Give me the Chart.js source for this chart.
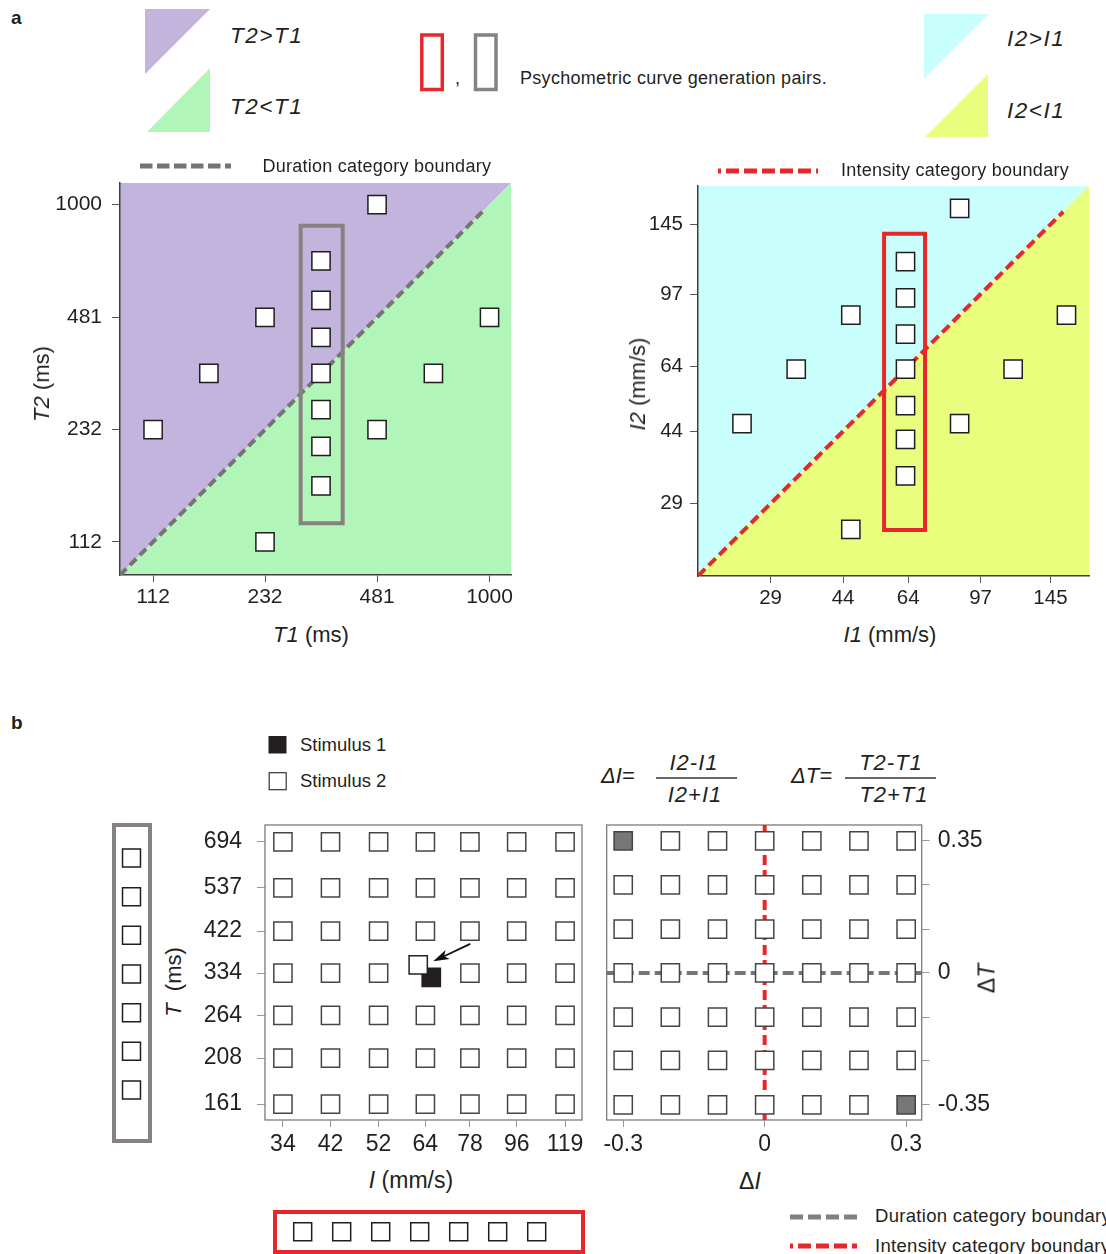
<!DOCTYPE html>
<html>
<head>
<meta charset="utf-8">
<script src="https://cdn.jsdelivr.net/npm/chart.js@4.4.1/dist/chart.umd.min.js"></script>
<style>
  html, body { margin: 0; padding: 0; background: #fff; }
  #page { position: relative; width: 1106px; height: 1254px; overflow: hidden;
          font-family: "Liberation Sans", Arial, sans-serif; color: #231f20; }
  .t { position: absolute; white-space: pre; }
  canvas { position: absolute; }
</style>
</head>
<body>
<div id="page"></div>
<script>
// ---------- Panel a: duration space (ms) ----------
const DURATION_TICKS = [112, 232, 481, 1000];
const DURATION_PAIR_T1 = [112, 161, 232, 232, 481, 481, 694, 1000];
const DURATION_PAIR_T2 = [232, 334, 481, 112, 1000, 232, 334, 481];
const DURATION_COLUMN_T1 = 334;
const DURATION_COLUMN_T2 = [161, 208, 264, 334, 422, 537, 694];
const DURATION_BOUNDARY = [90.3, 970];
const DURATION_BOX_T1 = [292.6, 384.6];
const DURATION_BOX_T2 = [126.4, 871];

// ---------- Panel a: intensity space (mm/s) ----------
const INTENSITY_TICKS = [29, 44, 64, 97, 145];
const INTENSITY_PAIR_I1 = [24.6, 33.6, 46, 46, 86, 86, 117, 159];
const INTENSITY_PAIR_I2 = [46, 63, 86, 25, 159, 46, 63, 86];
const INTENSITY_COLUMN_I1 = 63;
const INTENSITY_COLUMN_I2 = [34, 42, 51, 63, 77, 95, 117];
const INTENSITY_BOUNDARY = [19.1, 156];
const INTENSITY_BOX_I1 = [55.7, 70.5];
const INTENSITY_BOX_I2 = [24.9, 137.5];

// ---------- Panel b: stimulus grid ----------
const GRID_I = [34, 42, 52, 64, 78, 96, 119];
const GRID_T = [694, 537, 422, 334, 264, 208, 161];
const STIMULUS_1 = [65.7, 326];   // [I, T]
const STIMULUS_2 = [62, 349.6];   // [I, T]
const DELTA_I = [-0.3, -0.2, -0.1, 0, 0.1, 0.2, 0.3];
const DELTA_T = [0.35, 0.233, 0.116, 0, -0.117, -0.232, -0.35];
const DELTA_I_TICKS = [-0.3, 0, 0.3];
const DELTA_T_LABELLED = [0.35, 0, -0.35];
const DELTA_EXTREMES = [[-0.3, 0.35], [0.3, -0.35]];

// ---------- colours ----------
const PURPLE = '#c3b4de', GREEN = '#b2f5b8', CYAN = '#c8fffc', YELLOW = '#eafe7d';
const DUR_GREY = '#747474', INT_RED = '#e6272b', BOX_GREY = '#878181';

const page = document.getElementById('page');
Chart.defaults.font.family = "'Liberation Sans', Arial, sans-serif";
Chart.defaults.color = '#231f20';

function mount(l, t, w, h) {
  const c = document.createElement('canvas');
  c.width = w; c.height = h;
  c.style.left = l + 'px'; c.style.top = t + 'px';
  c.style.width = w + 'px'; c.style.height = h + 'px';
  page.appendChild(c);
  return c;
}

function makeChart(canvas, datasets, scales, padding, plugins) {
  return new Chart(canvas, {
    type: 'scatter',
    data: { datasets },
    options: {
      responsive: false, devicePixelRatio: 1, animation: false, events: [],
      layout: { padding, autoPadding: false },
      scales,
      plugins: { legend: { display: false }, tooltip: { enabled: false } }
    },
    plugins: plugins || []
  });
}

function axis(type, o) {
  const a = {
    type, position: o.pos, min: o.min, max: o.max, bounds: 'data', display: o.display !== false,
    afterFit: s => {
      if (o.w != null) s.width = o.w;
      if (o.h != null) s.height = o.h;
      s.paddingTop = 0; s.paddingBottom = 0; s.paddingLeft = 0; s.paddingRight = 0;
    },
    grid: { display: true, drawOnChartArea: false, drawTicks: true, tickLength: o.tl || 8,
            tickColor: o.tc || '#555', color: o.tc || '#555', tickWidth: 1 },
    border: { display: !!o.border, color: '#3d3d3d', width: 1.5 },
    ticks: { autoSkip: false, maxRotation: 0, minRotation: 0, padding: o.pad || 4,
             font: { size: o.fs || 21 }, color: '#231f20',
             callback: o.cb || (v => String(v)) }
  };
  if (o.ticks) a.afterBuildTicks = s => { s.ticks = o.ticks.map(v => ({ value: v })); };
  return a;
}

function squares(points, opts = {}) {
  return Object.assign({
    type: 'scatter', data: points, pointStyle: 'rect', pointRadius: 12.9, pointHoverRadius: 12.9,
    backgroundColor: '#ffffff', borderColor: '#1e1e1e', borderWidth: 1.5, clip: false, order: 0
  }, opts);
}

function path(points, color, width, dash, order) {
  return {
    type: 'scatter', data: points, showLine: true, pointRadius: 0, borderColor: color,
    borderWidth: width, borderDash: dash || [], fill: false, tension: 0,
    borderCapStyle: dash ? 'butt' : 'square', borderJoinStyle: 'miter', order
  };
}

function boxPath(xs, ys) {
  return [{ x: xs[0], y: ys[1] }, { x: xs[1], y: ys[1] }, { x: xs[1], y: ys[0] },
          { x: xs[0], y: ys[0] }, { x: xs[0], y: ys[1] }];
}

// category regions above / below the identity line
function regionPlugin(upper, lower) {
  return {
    id: 'regions',
    beforeDraw(chart) {
      const { ctx, scales: { x, y } } = chart;
      const x0 = x.getPixelForValue(x.min), x1 = x.getPixelForValue(x.max);
      const y0 = y.getPixelForValue(y.min), y1 = y.getPixelForValue(y.max);
      ctx.save();
      ctx.fillStyle = upper;
      ctx.beginPath(); ctx.moveTo(x0, y0); ctx.lineTo(x0, y1); ctx.lineTo(x1, y1); ctx.closePath(); ctx.fill();
      ctx.fillStyle = lower;
      ctx.beginPath(); ctx.moveTo(x0, y0); ctx.lineTo(x1, y1); ctx.lineTo(x1, y0); ctx.closePath(); ctx.fill();
      ctx.restore();
    }
  };
}

const framePlugin = {
  id: 'frame',
  beforeDatasetsDraw(chart) {
    const { ctx, chartArea: a } = chart;
    ctx.save();
    ctx.strokeStyle = '#7b7b7b'; ctx.lineWidth = 1.3;
    ctx.strokeRect(a.left, a.top, a.right - a.left, a.bottom - a.top);
    ctx.restore();
  }
};

function outlinePlugin(color, dl, dt, dr, db) {
  return {
    id: 'outline',
    afterDatasetsDraw(chart) {
      const { ctx, chartArea: a } = chart;
      ctx.save();
      ctx.strokeStyle = color; ctx.lineWidth = 4;
      ctx.strokeRect(a.left - dl, a.top - dt, (a.right + dr) - (a.left - dl), (a.bottom + db) - (a.top - dt));
      ctx.restore();
    }
  };
}

// ================= Panel a, left: T1 vs T2 =================
makeChart(mount(40, 175, 480, 445), [
  squares(DURATION_PAIR_T1.map((t1, i) => ({ x: t1, y: DURATION_PAIR_T2[i] }))),
  squares(DURATION_COLUMN_T2.map(t2 => ({ x: DURATION_COLUMN_T1, y: t2 }))),
  path(boxPath(DURATION_BOX_T1, DURATION_BOX_T2), BOX_GREY, 4, null, 1),
  path(DURATION_BOUNDARY.map(v => ({ x: v, y: v })), DUR_GREY, 4, [9, 5], 2)
], {
  x: axis('logarithmic', { pos: 'bottom', min: 90.3, max: 1150, ticks: DURATION_TICKS, h: 45, tl: 7, pad: 3, fs: 21, border: true }),
  y: axis('logarithmic', { pos: 'left', min: 90.3, max: 1150, ticks: DURATION_TICKS, w: 80, tl: 8, pad: 10, fs: 21, border: true })
}, { top: 8, right: 9, left: 0, bottom: 0 }, [regionPlugin(PURPLE, GREEN)]);

// ================= Panel a, right: I1 vs I2 =================
makeChart(mount(610, 175, 490, 446), [
  squares(INTENSITY_PAIR_I1.map((i1, i) => ({ x: i1, y: INTENSITY_PAIR_I2[i] }))),
  squares(INTENSITY_COLUMN_I2.map(i2 => ({ x: INTENSITY_COLUMN_I1, y: i2 }))),
  path(boxPath(INTENSITY_BOX_I1, INTENSITY_BOX_I2), INT_RED, 4, null, 1),
  path(INTENSITY_BOUNDARY.map(v => ({ x: v, y: v })), INT_RED, 4, [10, 5], 2)
], {
  x: axis('logarithmic', { pos: 'bottom', min: 19.1, max: 181, ticks: INTENSITY_TICKS, h: 45, tl: 7, pad: 3, fs: 20.5, border: true }),
  y: axis('logarithmic', { pos: 'left', min: 19.1, max: 181, ticks: INTENSITY_TICKS, w: 88, tl: 8, pad: 7, fs: 20.5, border: true })
}, { top: 11, right: 11, left: 0, bottom: 0 }, [regionPlugin(CYAN, YELLOW)]);

// ================= Panel b, left: I x T grid =================
const gridPoints = [];
GRID_T.forEach(t => GRID_I.forEach(i => {
  if (!(i === 64 && t === 334)) gridPoints.push({ x: i, y: t });
}));

const arrowPlugin = {
  id: 'arrow',
  afterDatasetsDraw(chart) {
    const { ctx, scales: { x, y } } = chart;
    const sx = x.getPixelForValue(STIMULUS_2[0]), sy = y.getPixelForValue(STIMULUS_2[1]);
    const tip = [sx + 15, sy - 3.5], tail = [sx + 52, sy - 21];
    const dx = tip[0] - tail[0], dy = tip[1] - tail[1], L = Math.hypot(dx, dy);
    const ux = dx / L, uy = dy / L, px = -uy, py = ux;
    const hl = 16, hw = 5;
    ctx.save();
    ctx.strokeStyle = '#111'; ctx.fillStyle = '#111'; ctx.lineWidth = 1.8;
    ctx.beginPath(); ctx.moveTo(tail[0], tail[1]);
    ctx.lineTo(tip[0] - ux * (hl - 4), tip[1] - uy * (hl - 4)); ctx.stroke();
    ctx.beginPath();
    ctx.moveTo(tip[0], tip[1]);
    ctx.lineTo(tip[0] - ux * hl + px * hw, tip[1] - uy * hl + py * hw);
    ctx.lineTo(tip[0] - ux * (hl - 4), tip[1] - uy * (hl - 4));
    ctx.lineTo(tip[0] - ux * hl - px * hw, tip[1] - uy * hl - py * hw);
    ctx.closePath(); ctx.fill();
    ctx.restore();
  }
};

makeChart(mount(190, 815, 400, 345), [
  squares([{ x: STIMULUS_2[0], y: STIMULUS_2[1] }], { borderColor: '#222', order: 0 }),
  squares([{ x: STIMULUS_1[0], y: STIMULUS_1[1] }], { backgroundColor: '#231f20', borderColor: '#231f20', order: 1 }),
  squares(gridPoints, { borderColor: '#454545', order: 2 })
], {
  x: axis('logarithmic', { pos: 'bottom', min: 31.4, max: 128.3, ticks: GRID_I, h: 40, tl: 7, pad: 4, fs: 23, tc: '#9a9a9a' }),
  y: axis('logarithmic', { pos: 'left', min: 147.3, max: 762, ticks: GRID_T, w: 75, tl: 8, pad: 15, fs: 23, tc: '#9a9a9a' })
}, { top: 10, right: 8, left: 0, bottom: 0 }, [framePlugin, arrowPlugin]);

// ================= Panel b, right: ΔI x ΔT grid =================
const deltaPoints = [], deltaFill = [];
DELTA_T.forEach(dt => DELTA_I.forEach(di => {
  deltaPoints.push({ x: di, y: dt });
  const extreme = DELTA_EXTREMES.some(p => p[0] === di && p[1] === dt);
  deltaFill.push(extreme ? '#777777' : '#ffffff');
}));

makeChart(mount(600, 815, 400, 345), [
  squares(deltaPoints, { backgroundColor: deltaFill, borderColor: '#454545', order: 0 }),
  path([{ x: 0, y: -0.39 }, { x: 0, y: 0.392 }], INT_RED, 4, [10, 5], 1),
  path([{ x: -0.335, y: 0 }, { x: 0.333, y: 0 }], DUR_GREY, 4, [11, 5], 2)
], {
  x: axis('linear', { pos: 'bottom', min: -0.335, max: 0.333, ticks: DELTA_I_TICKS, h: 40, tl: 7, pad: 4, fs: 23, tc: '#9a9a9a' }),
  y: axis('linear', { pos: 'right', min: -0.39, max: 0.392, ticks: DELTA_T, w: 78.3, tl: 8, pad: 8, fs: 23, tc: '#9a9a9a',
                      cb: v => DELTA_T_LABELLED.includes(v) ? String(v) : '' })
}, { top: 10, right: 0, left: 6.7, bottom: 0 }, [framePlugin]);

// ================= Panel b: duration column (grey) =================
makeChart(mount(105, 815, 55, 335), [
  squares(GRID_T.map(t => ({ x: 0, y: String(t) })), { pointRadius: 12.7 })
], {
  x: { type: 'linear', min: -1, max: 1, display: false },
  y: { type: 'category', labels: GRID_T.map(String), offset: true, display: false }
}, { top: 23.7, bottom: 40.7, left: 8, right: 10 }, [outlinePlugin(BOX_GREY, -1, 13.7, 0, 31.7)]);

// ================= Panel b: intensity row (red) =================
makeChart(mount(265, 1195, 330, 59), [
  squares(GRID_I.map(i => ({ x: String(i), y: 0 })), { pointRadius: 12.7 })
], {
  x: { type: 'category', labels: GRID_I.map(String), offset: true, display: false },
  y: { type: 'linear', min: -1, max: 1, display: false }
}, { top: 25, bottom: 10.6, left: 18.2, right: 38.8 }, [outlinePlugin(INT_RED, 8.2, 8, 26.8, 8.6)]);

// ================= legend shapes =================
page.insertAdjacentHTML('afterbegin', `
<svg width="1106" height="1254" style="position:absolute;left:0;top:0" xmlns="http://www.w3.org/2000/svg">
  <polygon points="145,9 210,9 145,74" fill="${PURPLE}"/>
  <polygon points="210,68 210,132 147,132" fill="${GREEN}"/>
  <polygon points="924,14 989,14 924,79" fill="${CYAN}"/>
  <polygon points="988,74 988,137 925,137" fill="${YELLOW}"/>
  <rect x="421.8" y="35" width="20.5" height="54.5" fill="none" stroke="${INT_RED}" stroke-width="3.5"/>
  <rect x="475.5" y="35" width="20.5" height="54.5" fill="none" stroke="${BOX_GREY}" stroke-width="3.5"/>
  <line x1="140" y1="166" x2="231" y2="166" stroke="${DUR_GREY}" stroke-width="5" stroke-dasharray="12.5 4.5"/>
  <line x1="718" y1="171" x2="818" y2="171" stroke="${INT_RED}" stroke-width="5" stroke-dasharray="13 5" stroke-dashoffset="10"/>
  <rect x="268.5" y="736" width="18" height="17.5" fill="#231f20"/>
  <rect x="269.2" y="772.7" width="17" height="17" fill="#fff" stroke="#333" stroke-width="1.2"/>
  <line x1="656" y1="778" x2="737" y2="778" stroke="#333" stroke-width="1.3"/>
  <line x1="845" y1="778" x2="936" y2="778" stroke="#333" stroke-width="1.3"/>
  <line x1="790" y1="1217" x2="857" y2="1217" stroke="#808080" stroke-width="5" stroke-dasharray="13 5"/>
  <line x1="790" y1="1246" x2="857" y2="1246" stroke="${INT_RED}" stroke-width="5" stroke-dasharray="13 5" stroke-dashoffset="10"/>
</svg>`);

// ================= text =================
function label(html, x, y, o = {}) {
  const s = document.createElement('div');
  const fs = o.fs || 18;
  s.className = 't';
  s.innerHTML = html;
  s.style.fontSize = fs + 'px';
  s.style.lineHeight = fs + 'px';
  if (o.bold) s.style.fontWeight = 'bold';
  if (o.italic) s.style.fontStyle = 'italic';
  if (o.ls) s.style.letterSpacing = o.ls + 'px';
  s.style.left = x + 'px';
  s.style.top = (y - fs / 2) + 'px';
  if (o.rot) s.style.transform = 'translateX(-50%) rotate(-90deg)';
  else if (o.align === 'c') s.style.transform = 'translateX(-50%)';
  page.appendChild(s);
}

label('a', 11, 17, { fs: 19, bold: true });
label('b', 11, 722, { fs: 19, bold: true });

label('T2&gt;T1', 230, 36, { fs: 22.5, italic: true, ls: 1.5 });
label('T2&lt;T1', 230, 107, { fs: 22.5, italic: true, ls: 1.5 });
label(',', 455, 78, { fs: 18 });
label('Psychometric curve generation pairs.', 520, 77.5, { fs: 18, ls: 0.3 });
label('I2&gt;I1', 1007, 39, { fs: 22.5, italic: true, ls: 1.5 });
label('I2&lt;I1', 1007, 111, { fs: 22.5, italic: true, ls: 1.5 });
label('Duration category boundary', 262.5, 165.5, { fs: 18, ls: 0.25 });
label('Intensity category boundary', 841, 169.5, { fs: 18, ls: 0.25 });

label('<i>T2</i> (ms)', 42, 384, { fs: 22, rot: true });
label('<i>T1</i> (ms)', 311, 635, { fs: 22, align: 'c' });
label('<i>I2</i> (mm/s)', 638, 384, { fs: 22, rot: true });
label('<i>I1</i> (mm/s)', 890, 635, { fs: 22, align: 'c' });

label('Stimulus 1', 300, 745, { fs: 18.5 });
label('Stimulus 2', 300, 781, { fs: 18.5 });

label('ΔI=', 601, 776, { fs: 22, italic: true });
label('I2-I1', 694, 763, { fs: 22, italic: true, align: 'c', ls: 1 });
label('I2+I1', 695, 795, { fs: 22, italic: true, align: 'c', ls: 1 });
label('ΔT=', 791, 776, { fs: 22, italic: true });
label('T2-T1', 891, 763, { fs: 22, italic: true, align: 'c', ls: 1 });
label('T2+T1', 894, 795, { fs: 22, italic: true, align: 'c', ls: 1 });

label('<i>T</i>  (ms)', 174, 982, { fs: 22, rot: true });
label('<i>I</i> (mm/s)', 411, 1180, { fs: 23, align: 'c' });
label('Δ<i>I</i>', 750, 1181, { fs: 23, align: 'c' });
label('Δ<i>T</i>', 987, 978, { fs: 23, rot: true });

label('Duration category boundary', 875, 1216, { fs: 18.5, ls: 0.3 });
label('Intensity category boundary', 875, 1246, { fs: 18.5, ls: 0.3 });
</script>
</body>
</html>
